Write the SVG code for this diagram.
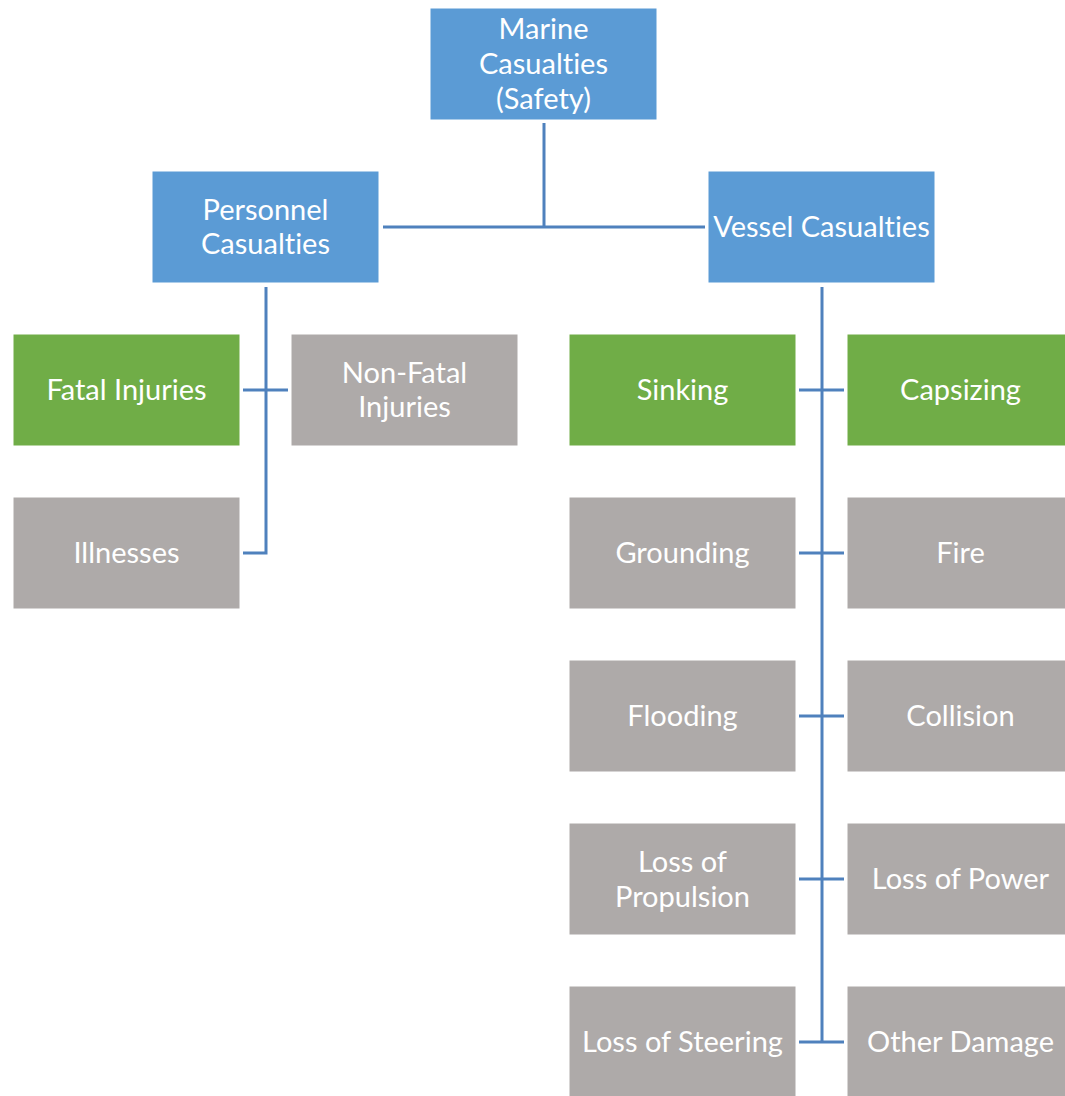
<svg xmlns="http://www.w3.org/2000/svg" width="1065" height="1096" viewBox="0 0 1065 1096">
<style>
.b{fill:#5B9BD5;stroke:#ffffff;stroke-width:1}
.g{fill:#70AD47;stroke:#ffffff;stroke-width:1}
.y{fill:#AEAAA9;stroke:#ffffff;stroke-width:1}
text{font-family:Lato,"Liberation Sans",sans-serif;font-size:29px;fill:#ffffff;text-anchor:middle;dominant-baseline:central;font-variant-ligatures:none}
.c{stroke:#4F81BD;stroke-width:3;fill:none}
</style>
<rect width="1065" height="1096" fill="#ffffff"/>
<g id="connectors">
<path class="c" d="M544 123V227M383 227H705"/>
<path class="c" d="M266 287V553H243M243 390H288"/>
<path class="c" d="M822 287V1042M799 390H844M799 553H844M799 716H844M799 879H844M799 1042H844"/>
</g>
<g id="marine"><rect class="b" x="430" y="8" width="227" height="112"/><text x="543.5" y="27">Marine</text><text x="543.5" y="62">Casualties</text><text x="543.5" y="97">(Safety)</text></g>
<g id="personnel"><rect class="b" x="152" y="171" width="227" height="112"/><text x="265.5" y="208">Personnel</text><text x="265.5" y="242">Casualties</text></g>
<g id="vessel"><rect class="b" x="708" y="171" width="227" height="112"/><text x="821.5" y="225">Vessel Casualties</text></g>
<g id="fatal"><rect class="g" x="13" y="334" width="227" height="112"/><text x="126.5" y="388">Fatal Injuries</text></g>
<g id="nonfatal"><rect class="y" x="291" y="334" width="227" height="112"/><text x="404.5" y="371">Non-Fatal</text><text x="404.5" y="405">Injuries</text></g>
<g id="illnesses"><rect class="y" x="13" y="497" width="227" height="112"/><text x="126.5" y="551">Illnesses</text></g>
<g id="sinking"><rect class="g" x="569" y="334" width="227" height="112"/><text x="682.5" y="388">Sinking</text></g>
<g id="capsizing"><rect class="g" x="847" y="334" width="227" height="112"/><text x="960.5" y="388">Capsizing</text></g>
<g id="grounding"><rect class="y" x="569" y="497" width="227" height="112"/><text x="682.5" y="551">Grounding</text></g>
<g id="fire"><rect class="y" x="847" y="497" width="227" height="112"/><text x="960.5" y="551">Fire</text></g>
<g id="flooding"><rect class="y" x="569" y="660" width="227" height="112"/><text x="682.5" y="714">Flooding</text></g>
<g id="collision"><rect class="y" x="847" y="660" width="227" height="112"/><text x="960.5" y="714">Collision</text></g>
<g id="propulsion"><rect class="y" x="569" y="823" width="227" height="112"/><text x="682.5" y="860">Loss of</text><text x="682.5" y="895">Propulsion</text></g>
<g id="power"><rect class="y" x="847" y="823" width="227" height="112"/><text x="960.5" y="877">Loss of Power</text></g>
<g id="steering"><rect class="y" x="569" y="986" width="227" height="112"/><text x="682.5" y="1040">Loss of Steering</text></g>
<g id="other"><rect class="y" x="847" y="986" width="227" height="112"/><text x="960.5" y="1040">Other Damage</text></g>
</svg>
